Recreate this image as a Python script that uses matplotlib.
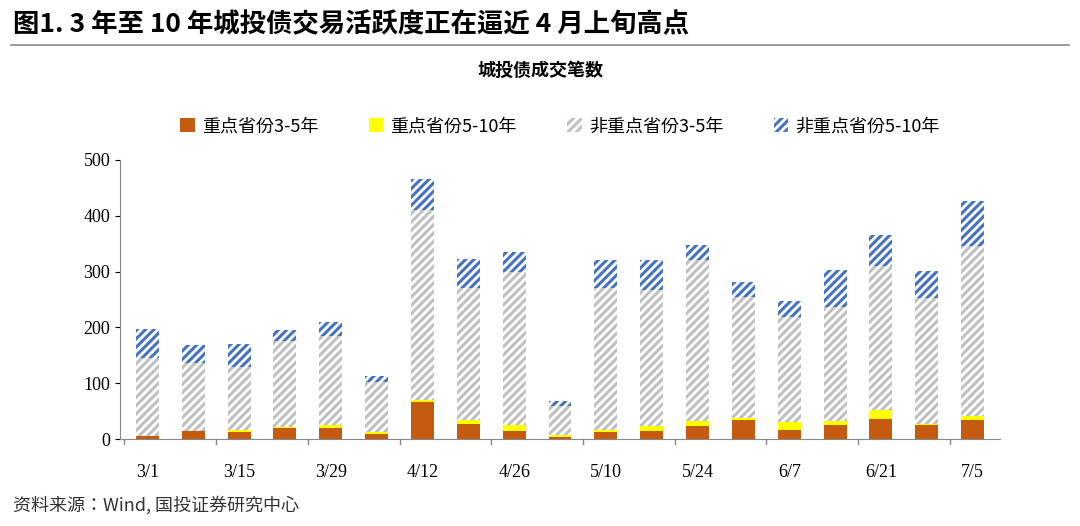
import matplotlib
matplotlib.use('Agg')
import matplotlib.pyplot as plt
from matplotlib import font_manager
import numpy as np

cjk = [f for f in font_manager.fontManager.ttflist if 'CJK' in f.name]
cjk_name = 'Noto Sans CJK SC'
for f in cjk:
    if f.name.endswith('SC'):
        cjk_name = f.name
        break
else:
    if cjk:
        cjk_name = cjk[0].name
plt.rcParams['font.family'] = ['Liberation Serif', cjk_name]
plt.rcParams['hatch.linewidth'] = 2.2

dates = ['3/1', '3/8', '3/15', '3/22', '3/29', '4/5', '4/12', '4/19', '4/26', '5/3',
         '5/10', '5/17', '5/24', '5/31', '6/7', '6/14', '6/21', '6/28', '7/5']
key_3_5 = [5, 14, 13, 20, 20, 10, 67, 28, 15, 4, 13, 14, 23, 35, 17, 25, 37, 25, 35]
key_5_10 = [1, 1, 4, 1, 5, 3, 3, 7, 10, 3, 4, 10, 10, 3, 13, 7, 15, 3, 7]
non_3_5 = [139, 122, 113, 154, 160, 90, 340, 235, 275, 53, 253, 244, 287, 217, 188, 205, 258, 225, 303]
non_5_10 = [52, 31, 40, 20, 25, 10, 55, 52, 36, 8, 50, 52, 27, 27, 30, 66, 55, 49, 82]
legend_labels = ['重点省份3-5年', '重点省份5-10年', '非重点省份3-5年', '非重点省份5-10年']

cjk_font = {'family': [cjk_name]}

fig = plt.figure(figsize=(10.8, 5.26), dpi=100)
fig.text(0.012, 0.953, '图1. 3 年至 10 年城投债交易活跃度正在逼近 4 月上旬高点',
         fontsize=19, fontweight='bold', va='center', **cjk_font)
fig.add_artist(plt.Line2D([0.01, 0.99], [0.915, 0.915], color='#888888', lw=1.2))
fig.text(0.5, 0.855, '城投债成交笔数', ha='center', fontsize=13, fontweight='bold', **cjk_font)
fig.text(0.012, 0.03, '资料来源：Wind, 国投证券研究中心', fontsize=13, style='italic',
         color='#333333', **cjk_font)

ax = fig.add_axes([0.111, 0.165, 0.815, 0.531])
x = np.arange(len(dates))
w = 0.5
b = np.zeros(len(dates))
ax.bar(x, key_3_5, w, bottom=b, color='#c55a11', label=legend_labels[0])
b += key_3_5
ax.bar(x, key_5_10, w, bottom=b, color='#ffff00', label=legend_labels[1])
b += key_5_10
ax.bar(x, non_3_5, w, bottom=b, facecolor='white', edgecolor='#c0c0c0', hatch='////',
       lw=0, label=legend_labels[2])
b += non_3_5
ax.bar(x, non_5_10, w, bottom=b, facecolor='white', edgecolor='#4472c4', hatch='////',
       lw=0, label=legend_labels[3])

ax.set_ylim(0, 500)
ax.set_yticks(range(0, 501, 100))
ax.set_xlim(-0.6, len(dates) - 0.4)
ax.set_xticks(x[::2])
ax.set_xticklabels(dates[::2])
ax.tick_params(axis='x', length=0, pad=18, labelsize=13)
ax.tick_params(axis='y', labelsize=13, direction='out')
for s in ['top', 'right']:
    ax.spines[s].set_visible(False)
ax.spines['left'].set_color('#888888')
ax.spines['bottom'].set_color('#888888')
for xi in np.arange(-0.5, len(dates), 2):
    ax.plot([xi, xi], [0, -8], color='#888888', lw=1, clip_on=False)

ax.legend(loc='center', bbox_to_anchor=(0.5, 1.12), ncol=4, frameon=False,
          prop={'family': [cjk_name], 'size': 13}, handlelength=0.8,
          handleheight=0.8, columnspacing=2.8, handletextpad=0.4)

fig.savefig('out.png', dpi=100)
